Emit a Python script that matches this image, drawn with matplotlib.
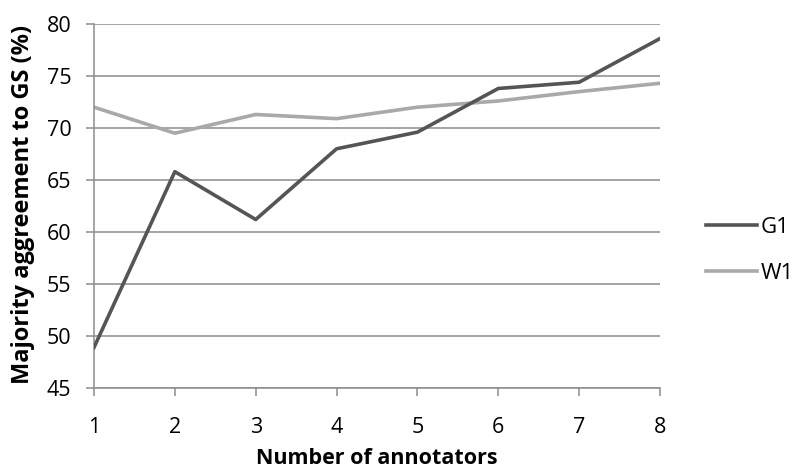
import matplotlib.pyplot as plt

annotators = [1, 2, 3, 4, 5, 6, 7, 8]
g1 = [48.9, 65.8, 61.2, 68.0, 69.6, 73.8, 74.4, 78.6]
w1 = [72.0, 69.5, 71.3, 70.9, 72.0, 72.6, 73.5, 74.3]
y_ticks = [45, 50, 55, 60, 65, 70, 75, 80]

plt.rcParams['font.family'] = ['Open Sans', 'DejaVu Sans']

fig = plt.figure(figsize=(7.98, 4.69), dpi=100)
ax = fig.add_axes([94 / 798, 1 - 388 / 469, 566 / 798, 364 / 469])

grid_col = "#8c8c8c"
for t in y_ticks:
    ax.axhline(t, color=grid_col, lw=1.1, zorder=1)

ax.plot(annotators, g1, color="#555555", lw=2.6, label="G1", zorder=3)
ax.plot(annotators, w1, color="#a9a9a9", lw=2.6, label="W1", zorder=2)

ax.set_xlim(1, 8)
ax.set_ylim(45, 80)
ax.set_xticks(annotators)
ax.set_yticks(y_ticks)
ax.tick_params(axis="both", labelsize=15.5, color=grid_col, length=5.8, width=1.1)
ax.tick_params(axis="x", pad=15)
ax.tick_params(axis="y", pad=10.5)

for side in ["top", "right"]:
    ax.spines[side].set_visible(False)
for side in ["left", "bottom"]:
    ax.spines[side].set_color(grid_col)
    ax.spines[side].set_linewidth(1.1)

ax.set_xlabel("Number of annotators", fontsize=15.5, fontweight="bold")
ax.set_ylabel("Majority aggreement to GS (%)", fontsize=17, fontweight="bold")
ax.xaxis.set_label_coords(0.5, -0.166)
ax.yaxis.set_label_coords(-0.104, 0.505)

leg = ax.legend(loc="center left", bbox_to_anchor=(1.081, 0.378), frameon=False,
                fontsize=16, handlelength=2.3, handletextpad=0.15, labelspacing=1.15,
                borderpad=0, borderaxespad=0)

fig.savefig("out.png", dpi=100)
